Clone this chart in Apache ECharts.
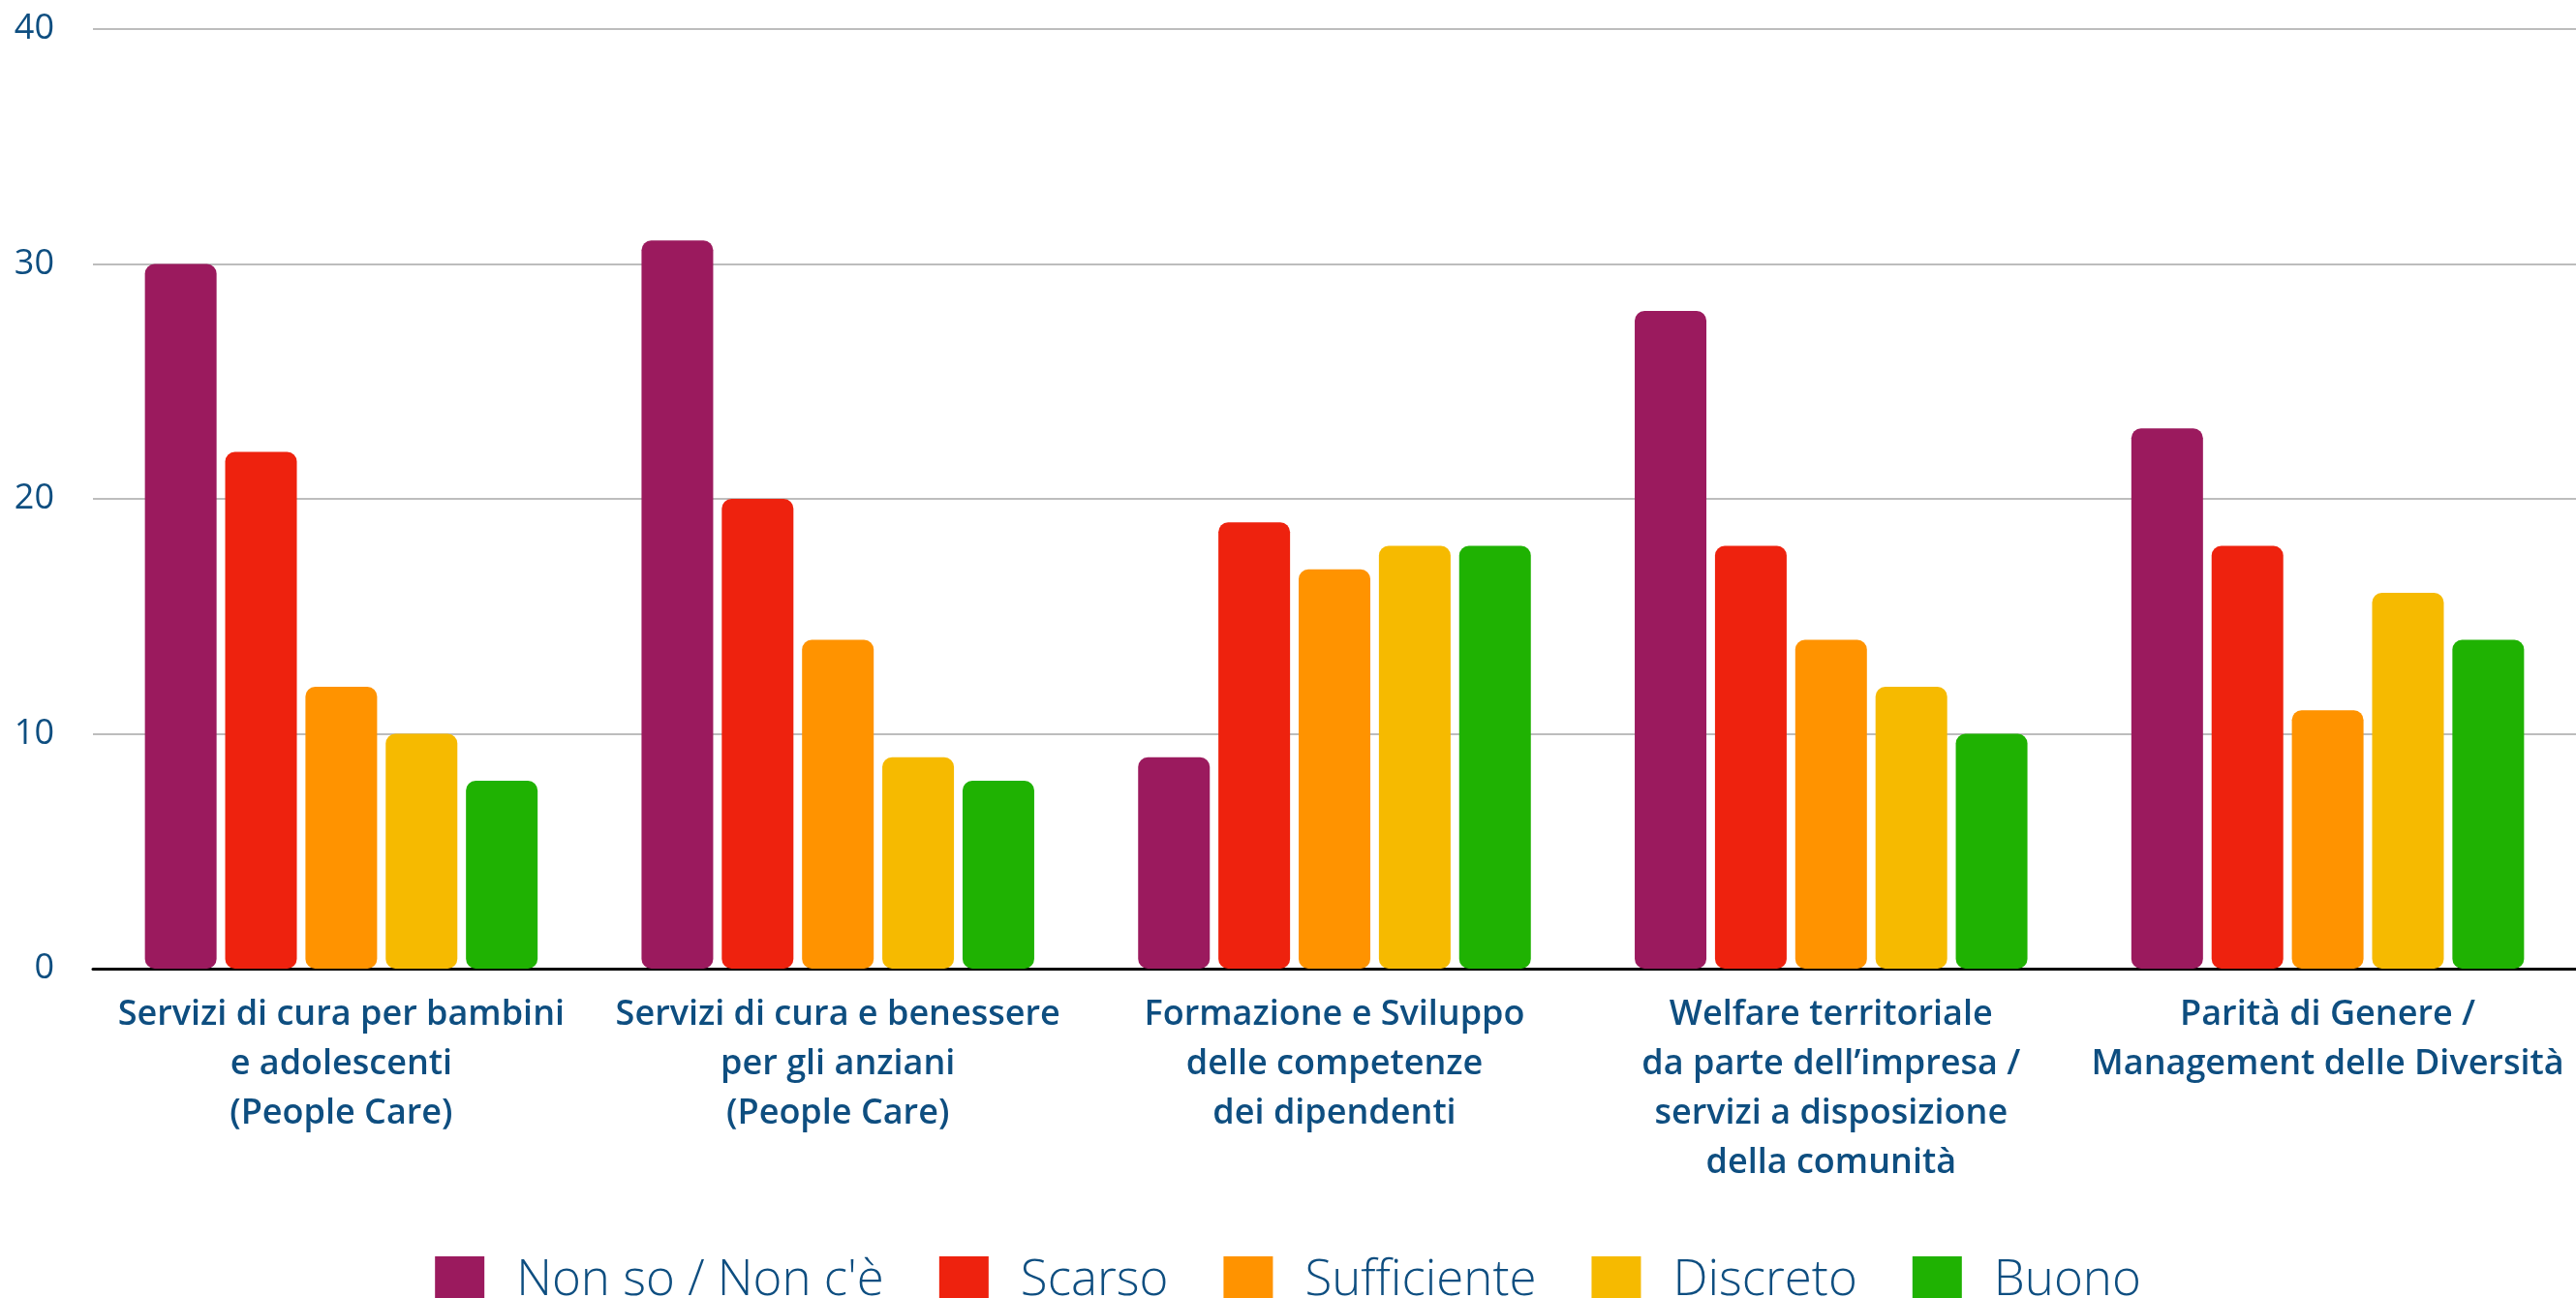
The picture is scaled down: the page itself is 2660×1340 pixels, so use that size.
<!DOCTYPE html>
<html><head><meta charset="utf-8">
<script src="https://cdn.jsdelivr.net/npm/echarts@6/dist/echarts.min.js"></script>
<style>html,body{margin:0;padding:0;background:#fff}#c{width:2660px;height:1340px}</style>
</head><body><div id="c"></div>
<script>
const categories = [
  "Servizi di cura per bambini\ne adolescenti\n(People Care)",
  "Servizi di cura e benessere\nper gli anziani\n(People Care)",
  "Formazione e Sviluppo\ndelle competenze\ndei dipendenti",
  "Welfare territoriale\nda parte dell’impresa /\nservizi a disposizione\ndella comunità",
  "Parità di Genere /\nManagement delle Diversità"
];
const seriesNames = ["Non so / Non c'è", "Scarso", "Sufficiente", "Discreto", "Buono"];
const nonSo = [30, 31, 9, 28, 23];
const scarso = [22, 20, 19, 18, 18];
const sufficiente = [12, 14, 17, 14, 11];
const discreto = [10, 9, 18, 12, 16];
const buono = [8, 8, 18, 10, 14];
const yTicks = [0, 10, 20, 30, 40];

const values = [nonSo, scarso, sufficiente, discreto, buono];
const colors = ["#9b1a5e", "#ee220e", "#ff9300", "#f6ba00", "#1fb202"];
const textColor = "#0e4e80";

const chart = echarts.init(document.getElementById('c'));
chart.setOption({
  animation: false,
  grid: { left: 96, right: 0, top: 30, bottom: 340, containLabel: false },
  legend: {
    data: seriesNames,
    top: 1292,
    left: 'center',
    itemWidth: 51,
    itemHeight: 51,
    itemGap: 57,
    icon: 'rect',
    textStyle: { fontFamily: 'Open Sans', fontWeight: 300, fontSize: 51, color: textColor, padding: [0, 0, 0, 28] }
  },
  xAxis: {
    type: 'category',
    data: categories,
    axisLine: { lineStyle: { color: '#000', width: 3 } },
    axisTick: { show: false },
    axisLabel: {
      interval: 0,
      margin: 22,
      fontFamily: 'Open Sans',
      fontWeight: 600,
      fontSize: 36,
      lineHeight: 51,
      color: textColor
    }
  },
  yAxis: {
    type: 'value',
    min: yTicks[0],
    max: yTicks[yTicks.length - 1],
    interval: 10,
    axisLine: { show: false },
    axisTick: { show: false },
    splitLine: { lineStyle: { color: '#bdbdbd', width: 2 } },
    axisLabel: { margin: 40, fontFamily: 'Open Sans', fontSize: 36, color: textColor }
  },
  series: seriesNames.map((n, i) => ({
    name: n,
    type: 'bar',
    data: values[i],
    barWidth: 74,
    barGap: '12%',
    itemStyle: { color: colors[i], borderRadius: 10 }
  }))
});
</script></body></html>
